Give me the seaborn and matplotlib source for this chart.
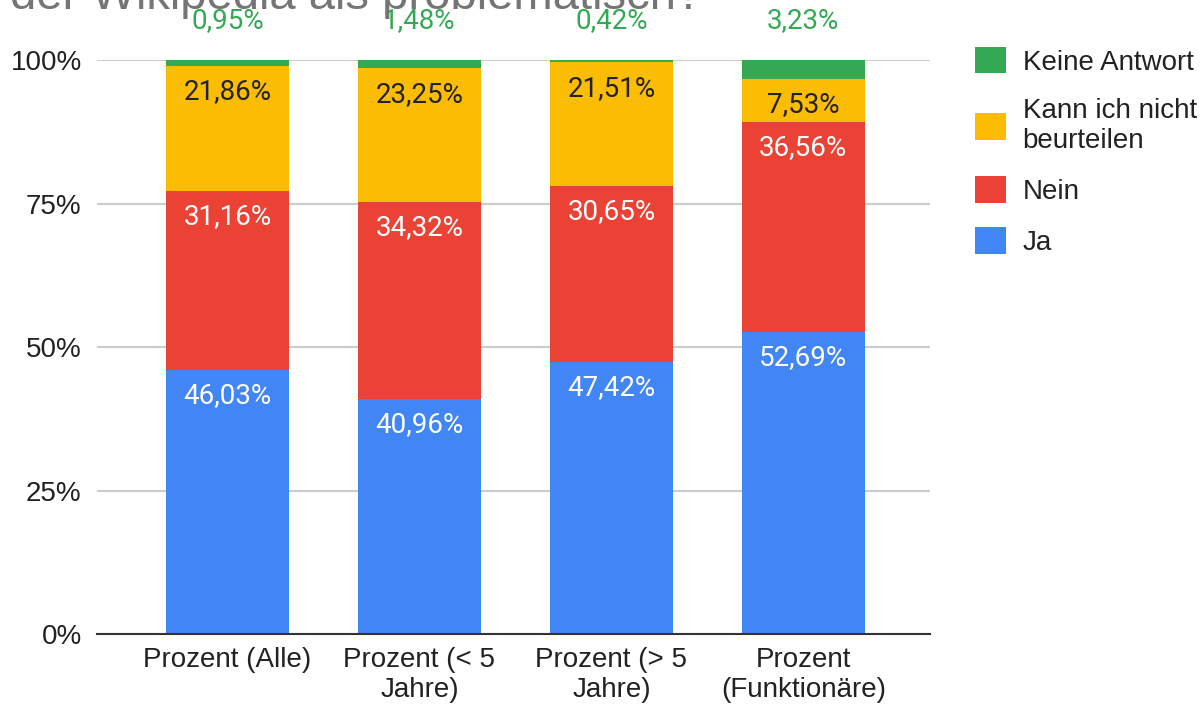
import numpy as np
import pandas as pd
import matplotlib.pyplot as plt
from matplotlib.patches import Patch
import seaborn as sns

# ---------------------------------------------------------------
# Data
# ---------------------------------------------------------------
groups = ["Prozent (Alle)", "Prozent (< 5\nJahre)", "Prozent (> 5\nJahre)",
          "Prozent\n(Funktionäre)"]
ja = [46.03, 40.96, 47.42, 52.69]
nein = [31.16, 34.32, 30.65, 36.56]
kann_nicht = [21.86, 23.25, 21.51, 7.53]
keine_antwort = [0.95, 1.48, 0.42, 3.23]

series_names = ["Ja", "Nein", "Kann ich nicht\nbeurteilen", "Keine Antwort"]
series_vals = [ja, nein, kann_nicht, keine_antwort]
COLORS = ["#4285F4", "#EA4335", "#FBBC04", "#34A853"]
LABEL_COLORS = ["white", "white", "#222222", "#34A853"]

sns.set_theme(style="white")
plt.rcParams["font.family"] = ["Liberation Sans", "DejaVu Sans"]

fig = plt.figure(figsize=(12.03, 7.04), dpi=100)
ax = fig.add_axes([0.0806, 0.0994, 0.6925, 0.8153])

# cumulative tops, drawn from the tallest down so each segment shows
vals = np.array(series_vals)
cum = np.cumsum(vals, axis=0)
for i in range(len(series_names) - 1, -1, -1):
    df = pd.DataFrame({"group": groups, "top": cum[i]})
    sns.barplot(data=df, x="group", y="top", color=COLORS[i], width=0.64,
                saturation=1, edgecolor="none", linewidth=0, ax=ax, zorder=2)

# value labels
for i in range(len(series_names)):
    for j in range(len(groups)):
        top = cum[i][j]
        txt = f"{vals[i][j]:.2f}%".replace(".", ",")
        if i == len(series_names) - 1:
            ax.text(j, top + 5.6, txt, ha="center", va="baseline", fontsize=20,
                    color=LABEL_COLORS[i], family=["Roboto", "DejaVu Sans"],
                    clip_on=False)
        else:
            ax.text(j, top - 4.5, txt, ha="center", va="center", fontsize=20,
                    color=LABEL_COLORS[i], family=["Roboto", "DejaVu Sans"],
                    zorder=3)

ax.set_ylim(0, 100)
ax.set_xlim(-0.68, 3.66)
ax.set_yticks([0, 25, 50, 75, 100])
ax.set_yticklabels(["0%", "25%", "50%", "75%", "100%"], fontsize=20, color="#222222")
ax.tick_params(axis="y", length=0, pad=11)
ax.tick_params(axis="x", length=0, pad=9, labelsize=20, labelcolor="#222222")
ax.set_xlabel("")
ax.set_ylabel("")
ax.grid(axis="y", color="#cccccc", linewidth=1.5, zorder=0)
ax.set_axisbelow(True)
for s in ["top", "right", "left"]:
    ax.spines[s].set_visible(False)
ax.spines["bottom"].set_color("#333333")
ax.spines["bottom"].set_linewidth(1.5)
ax.spines["bottom"].set_zorder(4)

# partially cut-off title
fig.text(0.008, 1 - 9 / 704, "der Wikipedia als problematisch?", fontsize=34,
         color="#757575", ha="left", va="baseline")

handles = [Patch(facecolor=COLORS[i], edgecolor="none") for i in [3, 2, 1, 0]]
labels = [series_names[i] for i in [3, 2, 1, 0]]
fig.legend(handles, labels, loc="upper left", bbox_to_anchor=(0.790, 0.969),
           frameon=False, fontsize=20, handlelength=1.1, handleheight=1.1,
           handletextpad=0.6, labelspacing=0.8, labelcolor="#222222")

plt.savefig("out.png", dpi=100)
